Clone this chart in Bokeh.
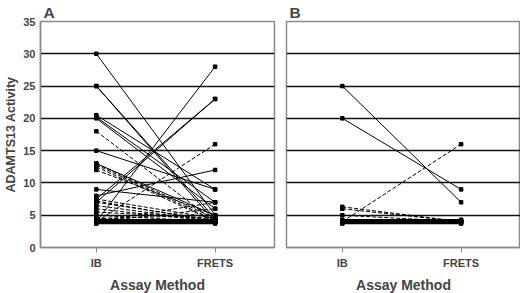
from bokeh.plotting import figure
from bokeh.layouts import row
from bokeh.models import FixedTicker, Range1d
from bokeh.embed import file_html
from bokeh.resources import INLINE

methods = ["IB", "FRETS"]
y_ticks = [0, 5, 10, 15, 20, 25, 30, 35]

# Panel A
a_solid_ib = [30, 25, 25, 20.5, 20.2, 20, 15, 13, 4, 7, 7.5, 8, 9]
a_solid_frets = [5, 4, 4.5, 9, 7, 6, 9, 5, 28, 23, 23, 12, 7]
a_dash_ib = [18, 13, 12.8, 12.5, 12, 7.5, 7.2, 7, 6.5, 6, 5.5, 5, 4.5, 4, 4, 4, 4.5]
a_dash_frets = [4, 4.5, 4.2, 4, 5, 4.5, 4, 4.2, 4, 4, 4.5, 4, 4, 16, 7, 6, 5]
a_flat = [3.7, 3.85, 4.0, 4.15, 4.3]

# Panel B
b_solid_ib = [25, 20]
b_solid_frets = [7, 9]
b_dash_ib = [4, 6.3, 6.0, 5.0]
b_dash_frets = [16, 4, 4, 4]
b_flat = [3.7, 3.85, 4.0, 4.15, 4.3]

FONT = "Liberation Sans"


def make_panel(letter, solid_ib, solid_fr, dash_ib, dash_fr, flat, show_y, left, right):
    p = figure(frame_width=234, frame_height=226, output_backend="svg",
               toolbar_location=None, x_range=Range1d(0.53, 2.5),
               y_range=Range1d(0, 35), min_border_left=left, min_border_right=right,
               min_border_top=21, min_border_bottom=46)
    p.title.text = letter
    p.title.text_font = FONT
    p.title.text_font_size = "15.5px"
    p.title.text_font_style = "bold"
    p.title.standoff = 2
    p.title.offset = 3
    p.outline_line_color = "#8a8a8a"
    p.outline_line_width = 1.5
    p.background_fill_color = "white"
    p.border_fill_color = "white"

    p.xgrid.visible = False
    p.ygrid.ticker = FixedTicker(ticks=[5, 10, 15, 20, 25, 30])
    p.ygrid.grid_line_color = "#111111"
    p.ygrid.grid_line_width = 1.6

    p.xaxis.ticker = FixedTicker(ticks=[1, 2])
    p.xaxis.major_label_overrides = {1: methods[0], 2: methods[1]}
    p.xaxis.axis_label = "Assay Method"
    p.xaxis.axis_label_text_font = FONT
    p.xaxis.axis_label_text_font_size = "14px"
    p.xaxis.axis_label_text_font_style = "bold"
    p.xaxis.axis_label_standoff = 5
    p.xaxis.major_label_text_font = FONT
    p.xaxis.major_label_text_font_size = "11px"
    p.xaxis.major_label_text_font_style = "bold"
    p.xaxis.major_label_standoff = 4
    p.xaxis.axis_line_color = "#8a8a8a"
    p.xaxis.axis_line_width = 1.5
    p.xaxis.major_tick_line_color = "#8a8a8a"
    p.xaxis.major_tick_out = 5
    p.xaxis.major_tick_in = 0
    p.xaxis.minor_tick_line_color = None

    if show_y:
        p.yaxis.ticker = FixedTicker(ticks=y_ticks)
        p.yaxis.axis_label = "ADAMTS13 Activity"
        p.yaxis.axis_label_text_font = FONT
        p.yaxis.axis_label_text_font_size = "12.5px"
        p.yaxis.axis_label_text_font_style = "bold"
        p.yaxis.axis_label_standoff = 2
        p.yaxis.major_label_text_font = FONT
        p.yaxis.major_label_text_font_size = "11px"
        p.yaxis.major_label_text_font_style = "bold"
        p.yaxis.major_label_standoff = 5
        p.yaxis.axis_line_color = "#8a8a8a"
        p.yaxis.axis_line_width = 1.5
        p.yaxis.major_tick_line_color = None
        p.yaxis.major_tick_out = 0
        p.yaxis.major_tick_in = 0
        p.yaxis.minor_tick_line_color = None
    else:
        p.yaxis.visible = False

    xs_s = [[1, 2] for _ in solid_ib]
    ys_s = [[a, b] for a, b in zip(solid_ib, solid_fr)]
    p.multi_line(xs_s, ys_s, line_color="black", line_width=1)
    xs_d = [[1, 2] for _ in dash_ib]
    ys_d = [[a, b] for a, b in zip(dash_ib, dash_fr)]
    p.multi_line(xs_d, ys_d, line_color="black", line_width=1, line_dash="4 2")
    xs_f = [[1, 2] for _ in flat]
    ys_f = [[v, v] for v in flat]
    p.multi_line(xs_f, ys_f, line_color="black", line_width=1.5)

    all_ib = solid_ib + dash_ib + flat
    all_fr = solid_fr + dash_fr + flat
    p.scatter([1] * len(all_ib), all_ib, marker="square", size=3.5, color="black")
    p.scatter([2] * len(all_fr), all_fr, marker="square", size=3.5, color="black")
    return p


pa = make_panel("A", a_solid_ib, a_solid_frets, a_dash_ib, a_dash_frets, a_flat, True, 40, 6)
pb = make_panel("B", b_solid_ib, b_solid_frets, b_dash_ib, b_dash_frets, b_flat, False, 6, 0)

layout = row(pa, pb, spacing=0)
open("out.html", "w").write(file_html(layout, INLINE))
